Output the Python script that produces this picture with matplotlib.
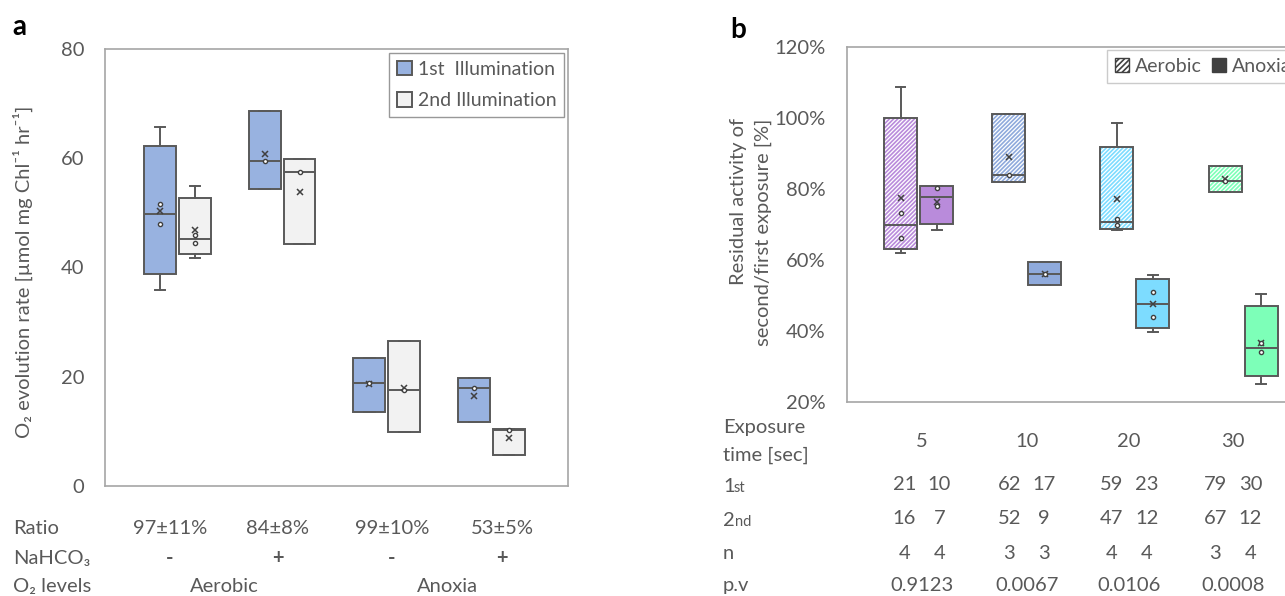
import matplotlib
matplotlib.use("Agg")
import matplotlib.pyplot as plt
import numpy as np
from matplotlib.patches import Patch, PathPatch
from matplotlib import transforms

plt.rcParams['font.family'] = ['Lato', 'DejaVu Sans']
plt.rcParams['hatch.linewidth'] = 1.2

# ---- panel a data: O2 evolution rate, raw points per box ----
a_first = [[65.8, 51.6, 47.9, 35.8], [68.7, 59.5, 54.4], [23.4, 18.9, 13.5], [19.7, 18.0, 11.8]]
a_second = [[55.0, 45.9, 44.5, 41.7], [59.9, 57.5, 44.3], [26.5, 17.6, 9.9], [10.5, 10.3, 5.7]]
ratio_labels = ["97±11%", "84±8%", "99±10%", "53±5%"]
nahco3 = ["-", "+", "-", "+"]
o2_levels = ["Aerobic", "Anoxia"]

# ---- panel b data: residual activity (%) ----
b_aerobic = [[108.9, 73.2, 66.3, 61.9], [101.2, 84.1, 81.9], [98.6, 71.5, 69.9, 68.5], [86.6, 82.3, 79.3]]
b_anoxia = [[80.9, 80.4, 75.2, 68.4], [59.4, 56.0, 53.0], [55.7, 50.9, 44.0, 39.6], [50.4, 36.6, 33.9, 25.1]]
exposure = ["5", "10", "20", "30"]
first_counts = [[21, 10], [62, 17], [59, 23], [79, 30]]
second_counts = [[16, 7], [52, 9], [47, 12], [67, 12]]
n_counts = [[4, 4], [3, 3], [4, 4], [3, 4]]
p_values = ["0.9123", "0.0067", "0.0106", "0.0008"]
b_colors = ['#B98BDB', '#8FAADC', '#7DDCFF', '#7DFFB8']

W, H = 1285, 596
TXT = '#595959'
EDGE = '#595959'
FS = 14.5


def stats(d):
    d = np.array(d, dtype=float)
    q1, med, q3 = np.percentile(d, [25, 50, 75], method='weibull')
    return dict(med=med, q1=q1, q3=q3, whislo=d.min(), whishi=d.max(), mean=d.mean(), fliers=[])


def draw_boxes(ax, data, pos, color, hatched=False, width=0.305, cap=0.1):
    res = ax.bxp([stats(d) for d in data], positions=pos, widths=width, patch_artist=True,
                 showmeans=True, showfliers=False, capwidths=cap,
                 boxprops=dict(facecolor=color if not hatched else 'none', edgecolor=EDGE, linewidth=1.4),
                 medianprops=dict(color=EDGE, linewidth=1.4),
                 whiskerprops=dict(color=EDGE, linewidth=1.4),
                 capprops=dict(color=EDGE, linewidth=1.4),
                 meanprops=dict(marker='x', markeredgecolor='#404040', markersize=5, markeredgewidth=1.1))
    for b in res['boxes']:
        if hatched:
            ax.add_patch(PathPatch(b.get_path(), facecolor='white', edgecolor=color, hatch='////////',
                                   linewidth=0, zorder=b.get_zorder() - 0.1))
    for d, p in zip(data, pos):
        inner = sorted(d)[1:-1]
        ax.plot([p] * len(inner), inner, linestyle='none', marker='o', markersize=3,
                markerfacecolor='white', markeredgecolor='#404040', markeredgewidth=1, zorder=4)


def style_axes(ax):
    for s in ax.spines.values():
        s.set_color('#A6A6A6')
        s.set_linewidth(1.2)
    ax.tick_params(length=0, labelsize=FS, labelcolor=TXT, pad=15)
    ax.set_xticks([])


fig = plt.figure(figsize=(W / 100, H / 100), dpi=100)

# ================= panel a =================
axa = fig.add_axes([105 / W, 1 - 486 / H, 463 / W, 437 / H])
ga = np.arange(4)
draw_boxes(axa, a_first, ga - 0.167, '#98B2E0')
draw_boxes(axa, a_second, ga + 0.167, '#F2F2F2')
axa.set_xlim(-0.69, 3.73)
axa.set_ylim(0, 80)
axa.set_yticks([0, 20, 40, 60, 80])
style_axes(axa)

fig.text(23 / W, 1 - 272 / H, "O₂ evolution rate [µmol mg Chl⁻¹ hr⁻¹]", rotation=90,
         ha='center', va='center', fontsize=FS, color=TXT)
fig.text(12 / W, 1 - 27 / H, "a", fontsize=20, fontweight='bold', ha='left', va='center')

leg = axa.legend(handles=[Patch(facecolor='#98B2E0', edgecolor=EDGE, linewidth=1.4),
                          Patch(facecolor='#F2F2F2', edgecolor=EDGE, linewidth=1.4)],
                 labels=["1st  Illumination", "2nd Illumination"],
                 loc='upper right', bbox_to_anchor=(564 / W, 1 - 53 / H), bbox_transform=fig.transFigure,
                 fontsize=14, frameon=True, fancybox=False, borderaxespad=0,
                 handlelength=0.75, handleheight=0.75, handletextpad=0.3, labelspacing=0.75,
                 borderpad=0.4, labelcolor=TXT)
leg.get_frame().set_edgecolor('#7F7F7F')
leg.get_frame().set_linewidth(1)

ta = transforms.blended_transform_factory(axa.transData, fig.transFigure)
row_y_a = [529, 558, 587]
for lab, y in zip(["Ratio", "NaHCO₃", "O₂ levels"], row_y_a):
    fig.text(13 / W, 1 - y / H, lab, fontsize=FS, color=TXT, ha='left', va='center')
col_x_a = [-0.07, 0.96, 2.05, 3.1]
for x, r, s in zip(col_x_a, ratio_labels, nahco3):
    axa.text(x, 1 - row_y_a[0] / H, r, transform=ta, fontsize=FS, color=TXT, ha='center', va='center')
    axa.text(x, 1 - row_y_a[1] / H, s, transform=ta, fontsize=FS, color=TXT, ha='center', va='center',
             fontweight='bold')
for i, lab in enumerate(o2_levels):
    x = (col_x_a[2 * i] + col_x_a[2 * i + 1]) / 2
    axa.text(x, 1 - row_y_a[2] / H, lab, transform=ta, fontsize=FS, color=TXT, ha='center', va='center')

# ================= panel b =================
axb = fig.add_axes([846.7 / W, 1 - 401.7 / H, (1315 - 846.7) / W, 354.4 / H])
gb = np.arange(4)
for i in range(4):
    draw_boxes(axb, [b_aerobic[i]], [gb[i] - 0.167], b_colors[i], hatched=True, cap=0.09)
    draw_boxes(axb, [b_anoxia[i]], [gb[i] + 0.167], b_colors[i], cap=0.09)
axb.set_xlim(-0.665, 3.665)
axb.set_ylim(20, 120)
axb.set_yticks([20, 40, 60, 80, 100, 120])
axb.set_yticklabels([f"{v}%" for v in [20, 40, 60, 80, 100, 120]])
style_axes(axb)

fig.text(751 / W, 1 - 232 / H, "Residual activity of\nsecond/first exposure [%]", rotation=90,
         ha='center', va='center', multialignment='right', fontsize=FS, color=TXT, linespacing=1.5)
fig.text(730 / W, 1 - 30 / H, "b", fontsize=20, fontweight='bold', ha='left', va='center')

legb = axb.legend(handles=[Patch(facecolor='white', edgecolor='#404040', hatch='//////', linewidth=1),
                           Patch(facecolor='#404040', edgecolor='#404040', linewidth=1)],
                  labels=["Aerobic", "Anoxia"], ncol=2,
                  loc='upper left', bbox_to_anchor=(1107 / W, 1 - 50 / H), bbox_transform=fig.transFigure,
                  fontsize=14, frameon=True, fancybox=False, borderaxespad=0,
                  handlelength=0.75, handleheight=0.75, handletextpad=0.3, columnspacing=0.5,
                  borderpad=0.4, labelcolor=TXT)
legb.get_frame().set_edgecolor('#BFBFBF')
legb.get_frame().set_linewidth(1)

tb = transforms.blended_transform_factory(axb.transData, fig.transFigure)
col_x_b = [(px - 918.6) / 108.1 for px in [922, 1026.7, 1129, 1232.7]]
dx = 17.5 / 108.1
fig.text(723 / W, 1 - 428 / H, "Exposure", fontsize=FS, color=TXT, ha='left', va='center')
fig.text(723 / W, 1 - 455 / H, "time [sec]", fontsize=FS, color=TXT, ha='left', va='center')
for x, e in zip(col_x_b, exposure):
    axb.text(x, 1 - 441.7 / H, e, transform=tb, fontsize=FS, color=TXT, ha='center', va='center')

# row labels with small suffixes
fig.text(723 / W, 1 - 491.7 / H, "1", fontsize=FS, color=TXT, ha='left', va='baseline')
fig.text(734 / W, 1 - 492.5 / H, "st", fontsize=10.5, color=TXT, ha='left', va='baseline')
fig.text(723 / W, 1 - 525.7 / H, "2", fontsize=FS, color=TXT, ha='left', va='baseline')
fig.text(734.5 / W, 1 - 526.3 / H, "nd", fontsize=10.5, color=TXT, ha='left', va='baseline')
fig.text(723 / W, 1 - 553.3 / H, "n", fontsize=FS, color=TXT, ha='left', va='center')
fig.text(723 / W, 1 - 585.7 / H, "p.v", fontsize=FS, color=TXT, ha='left', va='center')

for rows, y in zip([first_counts, second_counts, n_counts], [484.3, 519, 553.3]):
    for x, pair in zip(col_x_b, rows):
        for k, v in enumerate(pair):
            axb.text(x + (k * 2 - 1) * dx, 1 - y / H, str(v), transform=tb, fontsize=FS, color=TXT,
                     ha='center', va='center')
for x, p in zip(col_x_b, p_values):
    axb.text(x, 1 - 585.7 / H, p, transform=tb, fontsize=FS, color=TXT, ha='center', va='center')

fig.savefig("out.png", dpi=100)
